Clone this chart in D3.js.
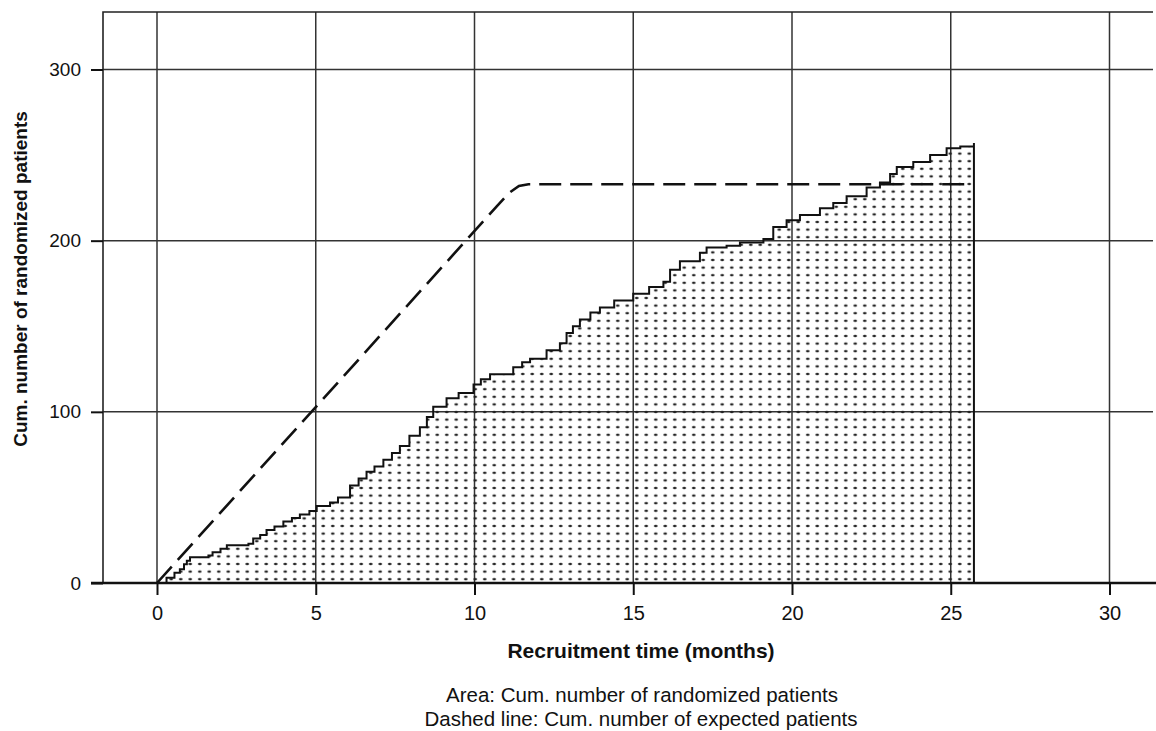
<!DOCTYPE html>
<html>
<head>
<meta charset="utf-8">
<script src="https://cdn.jsdelivr.net/npm/d3@7"></script>
<style>
  body { margin: 0; background: #fff; }
  text { font-family: "Liberation Sans", Arial, sans-serif; fill: #111; }
</style>
</head>
<body>
<div id="chart"></div>
<script>
// Data
var months   = [0, 0.3, 0.55, 0.72, 0.85, 0.94, 1.04, 1.62, 1.75, 2.0, 2.2, 2.88, 3.03, 3.25, 3.45, 3.7, 3.98, 4.25, 4.5, 4.8,
                5.03, 5.45, 5.7, 6.08, 6.35, 6.6, 6.85, 7.13, 7.4, 7.65, 7.95, 8.28, 8.5, 8.7, 9.12, 9.5, 9.97, 10.2, 10.49,
                11.22, 11.5, 11.75, 12.27, 12.69, 12.9, 13.1, 13.32, 13.65, 13.95, 14.4, 15.0, 15.5, 15.95, 16.16, 16.47,
                17.1, 17.31, 17.94, 18.36, 19.1, 19.41, 19.83, 20.25, 20.88, 21.3, 21.72, 22.35, 22.77, 23.09, 23.3, 23.82,
                24.35, 24.87, 25.3, 25.73];
var patients = [0, 3, 6, 8, 11, 13, 15, 16, 18, 20, 22, 23, 26, 28, 31, 33, 36, 38, 40, 42,
                45, 47, 50, 57, 61, 65, 68, 72, 76, 80, 86, 91, 97, 103, 108, 111, 116, 119, 122,
                126, 129, 131, 136, 140, 146, 150, 154, 158, 161, 165, 169, 173, 176, 183, 188,
                193, 196, 197, 199, 201, 208, 212, 215, 219, 222, 226, 231, 234, 239, 243, 246,
                250, 254, 255, 257];

// Expected recruitment (dashed line)
var expMonths   = [0, 10.7, 11.1, 11.4, 11.7, 25.73];
var expPatients = [0, 220, 228, 232, 233, 233];

var xTicks = [0, 5, 10, 15, 20, 25, 30],
    yTicks = [0, 100, 200, 300];

var width  = 1156,
    height = 731;

var frame = { left: 103, top: 12, right: 1153, bottom: 583 };

var svg = d3.select("#chart")
            .append("svg")
              .attr("width", width)
              .attr("height", height);

// Scales
var x = d3.scaleLinear().domain([0, 30]).range([157, 1109.5]);
var y = d3.scaleLinear().domain([0, 300]).range([583, 69.5]);

// Dot fill pattern for the area
var pattern = svg.append("defs")
                 .append("pattern")
                   .attr("id", "dots")
                   .attr("patternUnits", "userSpaceOnUse")
                   .attr("width", 9.5)
                   .attr("height", 7.6)
                   .attr("x", 157)
                   .attr("y", 583);
pattern.append("ellipse")
         .attr("cx", 4.75).attr("cy", 3.8)
         .attr("rx", 1.8).attr("ry", 1.2)
         .style("fill", "#222");

// Grid lines
svg.append("g")
   .selectAll("line")
   .data(xTicks)
   .enter()
   .append("line")
     .attr("x1", function(d) { return x(d); })
     .attr("x2", function(d) { return x(d); })
     .attr("y1", frame.top)
     .attr("y2", frame.bottom)
     .style("stroke", "#333")
     .style("stroke-width", 1.5);

svg.append("g")
   .selectAll("line")
   .data(yTicks.slice(1))
   .enter()
   .append("line")
     .attr("x1", frame.left)
     .attr("x2", frame.right)
     .attr("y1", function(d) { return y(d); })
     .attr("y2", function(d) { return y(d); })
     .style("stroke", "#333")
     .style("stroke-width", 1.5);

// Frame (left and top)
svg.append("path")
   .attr("d", "M" + frame.left + "," + frame.bottom + "V" + frame.top + "H" + frame.right)
   .style("fill", "none")
   .style("stroke", "#222")
   .style("stroke-width", 1.6);

// Area of randomized patients
var pts = months.map(function(m, i) { return [m, patients[i]]; });

var area = d3.area()
             .curve(d3.curveStepAfter)
             .x(function(d) { return x(d[0]); })
             .y0(y(0))
             .y1(function(d) { return y(d[1]); });

svg.append("path")
   .datum(pts)
   .attr("d", area)
   .style("fill", "url(#dots)")
   .style("stroke", "none");

var line = d3.line()
             .curve(d3.curveStepAfter)
             .x(function(d) { return x(d[0]); })
             .y(function(d) { return y(d[1]); });

svg.append("path")
   .datum(pts.concat([[months[months.length - 1], 0]]))
   .attr("d", line)
   .style("fill", "none")
   .style("stroke", "#111")
   .style("stroke-width", 2)
   .style("stroke-linejoin", "miter");

// Dashed expected line
var expPts = expMonths.map(function(m, i) { return [m, expPatients[i]]; });

svg.append("path")
   .datum(expPts)
   .attr("d", d3.line().x(function(d) { return x(d[0]); }).y(function(d) { return y(d[1]); }))
   .style("fill", "none")
   .style("stroke", "#111")
   .style("stroke-width", 2.6)
   .style("stroke-dasharray", "22,9");

// X axis
var xAxis = svg.append("g")
               .attr("transform", "translate(0," + frame.bottom + ")")
               .call(d3.axisBottom(x).tickValues(xTicks).tickSize(12).tickPadding(11).tickFormat(d3.format("d")));
xAxis.select(".domain").remove();
xAxis.selectAll(".tick line").style("stroke", "#111").style("stroke-width", 2);
xAxis.selectAll(".tick text").style("font-size", "20px").style("fill", "#111");

svg.append("line")
   .attr("x1", frame.left - 12)
   .attr("x2", width)
   .attr("y1", frame.bottom)
   .attr("y2", frame.bottom)
   .style("stroke", "#111")
   .style("stroke-width", 2.6);

// Y axis
var yAxis = svg.append("g")
               .attr("transform", "translate(" + frame.left + ",0)")
               .call(d3.axisLeft(y).tickValues(yTicks).tickSize(12).tickPadding(10).tickFormat(d3.format("d")));
yAxis.select(".domain").remove();
yAxis.selectAll(".tick line").style("stroke", "#111").style("stroke-width", 2);
yAxis.selectAll(".tick text").style("font-size", "19px").style("fill", "#111");

// Axis titles
svg.append("text")
   .attr("x", 641)
   .attr("y", 658)
   .attr("text-anchor", "middle")
   .style("font-size", "21px")
   .style("font-weight", "bold")
   .text("Recruitment time (months)");

svg.append("text")
   .attr("transform", "translate(27,279) rotate(-90)")
   .attr("text-anchor", "middle")
   .style("font-size", "19px")
   .style("font-weight", "bold")
   .text("Cum. number of randomized patients");

// Caption (two lines, tight leading)
svg.append("text")
   .attr("x", 642)
   .attr("y", 702)
   .attr("text-anchor", "middle")
   .style("font-size", "20.5px")
   .text("Area: Cum. number of randomized patients");

svg.append("text")
   .attr("x", 641)
   .attr("y", 725.5)
   .attr("text-anchor", "middle")
   .style("font-size", "20.5px")
   .text("Dashed line: Cum. number of expected patients");
</script>
</body>
</html>
